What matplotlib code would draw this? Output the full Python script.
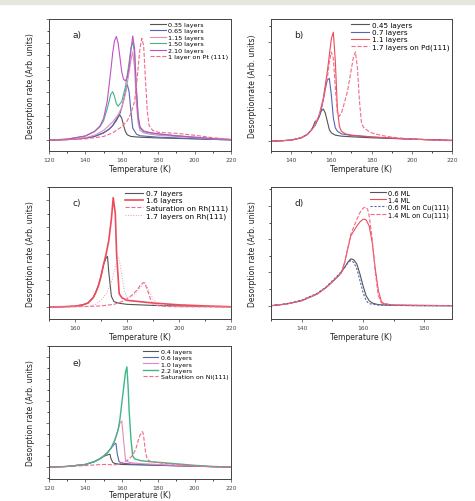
import matplotlib
matplotlib.use("Agg")
import matplotlib.pyplot as plt
from matplotlib.patches import Rectangle
from matplotlib.ticker import MultipleLocator

# colours
GRAY = '#555555'
BLUE = '#5565b5'
PINK = '#e888c0'
GREEN = '#40b585'
PURPLE = '#c050c8'
RED = '#ee4a5a'
DASH = '#f06a88'

# ---- panel a : Pt ----
a_labels = ['0.35 layers', '0.65 layers', '1.15 layers', '1.50 layers', '2.10 layers', '1 layer on Pt (111)']
a_t035 = [120, 130, 140, 145, 150, 153, 155, 157, 158, 159, 160, 161, 162, 163, 165, 170, 180, 190, 200, 210, 220]
a_y035 = [0, 0.02, 0.08, 0.15, 0.3, 0.45, 0.6, 0.85, 0.97, 1.03, 0.9, 0.6, 0.35, 0.22, 0.15, 0.12, 0.09, 0.07, 0.05, 0.03, 0.01]
a_t065 = [120, 130, 140, 145, 150, 153, 155, 157, 159, 160, 161, 162, 163, 164, 165, 166, 168, 170, 180, 190, 200, 210, 220]
a_y065 = [0, 0.02, 0.08, 0.15, 0.3, 0.45, 0.6, 0.8, 1.1, 1.35, 1.65, 2.0, 2.3, 2.0, 1.2, 0.5, 0.25, 0.18, 0.12, 0.09, 0.06, 0.03, 0.01]
a_t115 = [120, 130, 140, 145, 150, 155, 158, 160, 162, 164, 165, 166, 167, 168, 169, 170, 172, 175, 180, 190, 200, 210, 220]
a_y115 = [0, 0.03, 0.1, 0.2, 0.4, 0.75, 1.05, 1.35, 1.9, 2.8, 3.3, 3.65, 3.0, 1.5, 0.7, 0.4, 0.3, 0.25, 0.2, 0.15, 0.1, 0.05, 0.02]
a_t150 = [120, 130, 140, 145, 148, 150, 152, 154, 155, 156, 157, 158, 160, 162, 164, 165, 166, 167, 168, 169, 170, 172, 175, 180, 190, 200, 210, 220]
a_y150 = [0, 0.04, 0.17, 0.35, 0.55, 0.8, 1.3, 1.9, 2.0, 1.8, 1.5, 1.4, 1.6, 2.2, 3.2, 3.8, 4.05, 3.6, 2.0, 0.9, 0.5, 0.35, 0.3, 0.25, 0.18, 0.12, 0.06, 0.02]
a_t210 = [120, 130, 140, 145, 148, 150, 152, 154, 155, 156, 157, 158, 159, 160, 161, 162, 163, 164, 165, 166, 167, 168, 169, 170, 172, 175, 180, 190, 200, 210, 220]
a_y210 = [0, 0.04, 0.17, 0.36, 0.58, 0.9, 1.6, 2.9, 3.6, 4.1, 4.28, 4.0, 3.4, 2.8, 2.5, 2.45, 2.6, 3.0, 3.7, 4.3, 3.8, 2.2, 1.0, 0.55, 0.38, 0.32, 0.26, 0.18, 0.12, 0.06, 0.02]
a_tpt = [120, 130, 140, 150, 155, 160, 163, 165, 167, 168, 169, 170, 171, 172, 173, 174, 175, 177, 180, 185, 190, 200, 210, 220]
a_ypt = [0, 0.02, 0.05, 0.15, 0.3, 0.55, 0.8, 1.1, 1.6, 2.2, 3.0, 3.8, 4.2, 3.9, 2.5, 1.2, 0.6, 0.4, 0.32, 0.3, 0.28, 0.2, 0.1, 0.03]

# ---- panel b : Pd ----
b_labels = ['0.45 layers', '0.7 layers', '1.1 layers', '1.7 layers on Pd(111)']
b_t045 = [130, 135, 140, 145, 148, 150, 151, 152, 153, 154, 155, 156, 157, 158, 159, 160, 162, 165, 170, 180, 190, 200, 210, 220]
b_y045 = [0, 0.01, 0.03, 0.1, 0.2, 0.33, 0.45, 0.6, 0.62, 0.75, 0.92, 0.97, 0.85, 0.6, 0.35, 0.25, 0.18, 0.15, 0.13, 0.1, 0.08, 0.06, 0.04, 0.02]
b_t07 = [130, 135, 140, 145, 148, 150, 152, 154, 155, 156, 157, 158, 159, 160, 161, 162, 163, 165, 170, 180, 190, 200, 210, 220]
b_y07 = [0, 0.01, 0.03, 0.1, 0.2, 0.33, 0.48, 0.75, 0.95, 1.25, 1.6, 1.85, 1.9, 1.4, 0.7, 0.4, 0.3, 0.22, 0.17, 0.12, 0.09, 0.06, 0.04, 0.02]
b_t11 = [130, 135, 140, 145, 148, 150, 152, 154, 156, 158, 159, 160, 161, 162, 163, 164, 165, 167, 170, 180, 190, 200, 210, 220]
b_y11 = [0, 0.01, 0.03, 0.1, 0.2, 0.33, 0.5, 0.8, 1.3, 2.1, 2.6, 3.1, 3.3, 2.4, 1.0, 0.45, 0.3, 0.22, 0.18, 0.13, 0.09, 0.06, 0.04, 0.02]
b_tpd = [130, 135, 140, 145, 148, 150, 152, 154, 156, 157, 158, 159, 160, 161, 162, 163, 164, 165, 166, 168, 170, 171, 172, 173, 174, 175, 176, 178, 180, 185, 190, 200, 210, 220]
b_ypd = [0, 0.01, 0.03, 0.1, 0.2, 0.33, 0.5, 0.8, 1.25, 1.55, 1.9, 2.4, 2.7, 2.5, 1.6, 0.85, 0.75, 0.85, 1.05, 1.5, 2.2, 2.55, 2.7, 2.2, 1.2, 0.55, 0.42, 0.32, 0.25, 0.17, 0.12, 0.06, 0.03, 0.01]

# ---- panel c : Rh ----
c_labels = ['0.7 layers', '1.6 layers', 'Saturation on Rh(111)', '1.7 layers on Rh(111)']
c_t07 = [150, 155, 160, 163, 165, 167, 168, 169, 170, 171, 172, 172.5, 173, 174, 175, 177, 180, 190, 200, 210, 220]
c_y07 = [0, 0.01, 0.03, 0.08, 0.15, 0.35, 0.55, 0.8, 1.15, 1.6, 1.85, 1.9, 1.3, 0.4, 0.2, 0.14, 0.1, 0.06, 0.04, 0.02, 0.01]
c_t16 = [150, 155, 160, 163, 165, 167, 168, 169, 170, 171, 172, 173, 174, 174.7, 175.5, 176, 177, 178, 180, 185, 190, 200, 210, 220]
c_y16 = [0, 0.01, 0.03, 0.08, 0.15, 0.35, 0.55, 0.8, 1.15, 1.6, 2.0, 2.5, 3.3, 4.1, 3.5, 2.0, 0.5, 0.35, 0.25, 0.2, 0.15, 0.08, 0.04, 0.01]
c_tsat = [150, 160, 165, 170, 175, 178, 180, 182, 184, 185, 186, 186.5, 187, 188, 189, 190, 192, 195, 200, 220]
c_ysat = [0, 0.01, 0.02, 0.04, 0.1, 0.2, 0.3, 0.45, 0.65, 0.8, 0.9, 0.92, 0.85, 0.6, 0.3, 0.12, 0.05, 0.02, 0.01, 0]
c_t17 = [150, 160, 165, 168, 170, 172, 174, 175, 176, 176.5, 177, 178, 179, 180, 182, 184, 186, 187, 188, 190, 192, 195, 200, 220]
c_y17 = [0, 0.01, 0.03, 0.1, 0.25, 0.5, 0.9, 1.3, 1.7, 1.9, 1.8, 1.2, 0.6, 0.35, 0.4, 0.6, 0.85, 0.9, 0.7, 0.3, 0.1, 0.04, 0.01, 0]

# ---- panel d : Cu ----
d_labels = ['0.6 ML', '1.4 ML', '0.6 ML on Cu(111)', '1.4 ML on Cu(111)']
d_t06 = [130, 135, 140, 145, 148, 150, 152, 154, 155, 156, 157, 158, 159, 160, 161, 162, 163, 165, 170, 180, 190]
d_y06 = [0, 0.05, 0.15, 0.35, 0.55, 0.72, 0.9, 1.15, 1.3, 1.41, 1.38, 1.25, 0.95, 0.6, 0.3, 0.15, 0.08, 0.03, 0.01, 0, 0]
d_t14 = [130, 135, 140, 145, 148, 150, 152, 153, 154, 156, 158, 159, 160, 160.5, 161, 162, 163, 164, 165, 166, 167, 170, 180, 190]
d_y14 = [0, 0.05, 0.15, 0.35, 0.55, 0.72, 0.9, 1.0, 1.3, 2.1, 2.4, 2.52, 2.6, 2.6, 2.58, 2.4, 1.9, 1.1, 0.45, 0.12, 0.05, 0.02, 0.01, 0]
d_t06cu = [130, 135, 140, 145, 148, 150, 152, 154, 155, 156, 157, 158, 159, 160, 161, 162, 165, 170, 180, 190]
d_y06cu = [0, 0.06, 0.17, 0.37, 0.57, 0.75, 0.93, 1.15, 1.28, 1.36, 1.3, 1.1, 0.75, 0.4, 0.15, 0.06, 0.02, 0.01, 0, 0]
d_t14cu = [130, 135, 140, 145, 148, 150, 152, 153, 154, 156, 158, 159, 160, 160.8, 161.5, 162, 163, 164, 165, 166, 170, 180, 190]
d_y14cu = [0, 0.05, 0.15, 0.35, 0.55, 0.72, 0.9, 1.0, 1.3, 2.15, 2.6, 2.8, 2.93, 2.97, 2.9, 2.7, 2.0, 1.0, 0.3, 0.08, 0.02, 0.01, 0]

# ---- panel e : Ni ----
e_labels = ['0.4 layers', '0.6 layers', '1.0 layers', '2.2 layers', 'Saturation on Ni(111)']
e_t04 = [120, 130, 140, 145, 148, 150, 151, 152, 153, 153.5, 154, 155, 156, 158, 160, 170, 180, 190, 200, 210, 220]
e_y04 = [0, 0.03, 0.12, 0.25, 0.38, 0.48, 0.52, 0.55, 0.58, 0.58, 0.4, 0.22, 0.17, 0.14, 0.12, 0.1, 0.08, 0.06, 0.04, 0.02, 0]
e_t06 = [120, 130, 140, 145, 148, 150, 152, 154, 155, 156, 156.8, 157.5, 158.5, 160, 165, 170, 180, 190, 200, 210, 220]
e_y06 = [0, 0.03, 0.12, 0.25, 0.38, 0.5, 0.65, 0.85, 0.95, 1.05, 1.08, 0.6, 0.25, 0.18, 0.14, 0.12, 0.09, 0.06, 0.04, 0.02, 0]
e_t10 = [120, 130, 140, 145, 148, 150, 152, 154, 156, 157, 158, 159, 160, 161, 162, 163, 165, 170, 180, 190, 200, 210, 220]
e_y10 = [0, 0.03, 0.12, 0.25, 0.38, 0.5, 0.65, 0.85, 1.15, 1.4, 1.7, 2.0, 2.1, 1.2, 0.35, 0.25, 0.2, 0.16, 0.12, 0.08, 0.05, 0.02, 0]
e_t22 = [120, 130, 140, 145, 148, 150, 152, 154, 156, 158, 159, 160, 161, 162, 162.8, 163.5, 164, 165, 166, 167, 170, 175, 180, 190, 200, 210, 220]
e_y22 = [0, 0.03, 0.12, 0.25, 0.38, 0.5, 0.65, 0.85, 1.2, 1.7, 2.2, 2.9, 3.6, 4.3, 4.55, 3.6, 2.6, 1.3, 0.5, 0.38, 0.3, 0.25, 0.22, 0.15, 0.08, 0.03, 0]
e_tni = [120, 130, 140, 145, 150, 152, 155, 158, 160, 163, 165, 166, 167, 168, 169, 170, 171, 171.5, 172, 173, 174, 176, 180, 190, 200, 210, 220]
e_yni = [0, 0.03, 0.07, 0.1, 0.12, 0.12, 0.1, 0.12, 0.2, 0.3, 0.45, 0.55, 0.7, 0.9, 1.2, 1.45, 1.6, 1.6, 1.4, 0.7, 0.35, 0.25, 0.2, 0.12, 0.06, 0.02, 0]

W, H = 475, 502
fig = plt.figure(figsize=(W / 100, H / 100), dpi=100)
fig.patches.append(Rectangle((0, 1 - 5 / H), 1, 5 / H, transform=fig.transFigure,
                             color='#e6e6de', zorder=0))

def box(l, t, r, b):
    return [l / W, 1 - b / H, (r - l) / W, (b - t) / H]

def setup(ax, xlim, xmaj, ylim, ymaj, tag, ylabel='Desorption rate (Arb. units)', xpad=1.5):
    ax.set_xlim(*xlim)
    ax.set_ylim(*ylim)
    ax.xaxis.set_major_locator(MultipleLocator(xmaj))
    ax.xaxis.set_minor_locator(MultipleLocator(xmaj / 2))
    ax.yaxis.set_major_locator(MultipleLocator(ymaj))
    ax.yaxis.set_minor_locator(MultipleLocator(ymaj / 2))
    ax.set_yticklabels([])
    ax.tick_params(which='major', length=2.5, width=0.5, labelsize=4.3, pad=1.5, colors='#444444')
    ax.tick_params(which='minor', length=1.5, width=0.5)
    for s in ax.spines.values():
        s.set_linewidth(0.7)
        s.set_color('#444444')
    ax.set_xlabel('Temperature (K)', fontsize=5.5, labelpad=xpad, color='#222222')
    ax.set_ylabel(ylabel, fontsize=5.5, labelpad=5, color='#222222')
    ax.text(0.13, 0.86, tag, transform=ax.transAxes, fontsize=6.5, color='#222222')

def leg(ax, fs):
    ax.legend(loc='upper right', frameon=False, fontsize=fs, handlelength=2.4,
              handletextpad=0.4, labelspacing=0.15, borderaxespad=0.2, borderpad=0.2)

# a
ax = fig.add_axes(box(49, 20, 231, 152))
ax.plot(a_t035, a_y035, color=GRAY, lw=0.8, label=a_labels[0])
ax.plot(a_t065, a_y065, color=BLUE, lw=0.8, label=a_labels[1])
ax.plot(a_t115, a_y115, color=PINK, lw=0.8, label=a_labels[2])
ax.plot(a_t150, a_y150, color=GREEN, lw=0.8, label=a_labels[3])
ax.plot(a_t210, a_y210, color=PURPLE, lw=0.8, label=a_labels[4])
ax.plot(a_tpt, a_ypt, color=DASH, lw=0.8, ls='--', label=a_labels[5])
setup(ax, (120, 220), 20, (-0.45, 5.0), 1, 'a)')
leg(ax, 4.6)

# b
ax = fig.add_axes(box(271, 20, 452, 152))
ax.plot(b_t045, b_y045, color=GRAY, lw=0.8, label=b_labels[0])
ax.plot(b_t07, b_y07, color=BLUE, lw=0.8, label=b_labels[1])
ax.plot(b_t11, b_y11, color=RED, lw=0.8, label=b_labels[2])
ax.plot(b_tpd, b_ypd, color=DASH, lw=0.8, ls='--', label=b_labels[3])
setup(ax, (130, 220), 20, (-0.3, 3.7), 1, 'b)', ylabel='Desorptionrate (Arb. units)')
leg(ax, 5.2)

# c
ax = fig.add_axes(box(49, 188, 231, 320))
ax.plot(c_t07, c_y07, color=GRAY, lw=0.8, label=c_labels[0])
ax.plot(c_t16, c_y16, color=RED, lw=1.2, label=c_labels[1])
ax.plot(c_tsat, c_ysat, color=DASH, lw=0.8, ls='--', label=c_labels[2])
ax.plot(c_t17, c_y17, color='#e0a0b0', lw=0.7, ls=':', label=c_labels[3])
setup(ax, (150, 220), 20, (-0.45, 4.5), 1, 'c)')
leg(ax, 5.3)

# d
ax = fig.add_axes(box(271, 188, 452, 320))
ax.plot(d_t06, d_y06, color=GRAY, lw=0.8, label=d_labels[0])
ax.plot(d_t14, d_y14, color=RED, lw=0.8, label=d_labels[1])
ax.plot(d_t06cu, d_y06cu, color=BLUE, lw=0.8, ls=(0, (2, 1.5)), label=d_labels[2])
ax.plot(d_t14cu, d_y14cu, color=DASH, lw=0.8, ls='--', label=d_labels[3])
setup(ax, (130, 189), 20, (-0.4, 3.57), 1, 'd)')
leg(ax, 4.8)

# e
ax = fig.add_axes(box(49, 347, 231, 480))
ax.plot(e_t04, e_y04, color=GRAY, lw=0.8, label=e_labels[0])
ax.plot(e_t06, e_y06, color=BLUE, lw=0.8, label=e_labels[1])
ax.plot(e_t10, e_y10, color=PINK, lw=0.8, label=e_labels[2])
ax.plot(e_t22, e_y22, color=GREEN, lw=1.0, label=e_labels[3])
ax.plot(e_tni, e_yni, color=DASH, lw=0.8, ls='--', label=e_labels[4])
setup(ax, (120, 220), 20, (-0.54, 5.5), 1, 'e)', xpad=0.5)
leg(ax, 4.5)

fig.savefig('out.png', dpi=100)
